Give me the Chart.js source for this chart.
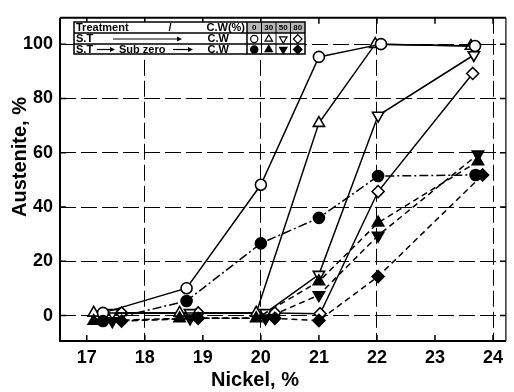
<!DOCTYPE html>
<html>
<head>
<meta charset="utf-8">
<script src="https://cdn.jsdelivr.net/npm/chart.js@4.4.0/dist/chart.umd.min.js"></script>
<style>
  html, body { margin: 0; padding: 0; background: #fff; }
  #wrap { width: 514px; height: 392px; }
</style>
</head>
<body>
<div id="wrap"><canvas id="chart" width="514" height="392"></canvas></div>
<script>
// ===== DATA =====
const xTicks = [17, 18, 19, 20, 21, 22, 23, 24];
const yTicks = [0, 20, 40, 60, 80, 100];
const cwLevels = ['0', '30', '50', '80'];

// S.T -> C.W  (open symbols, solid lines)
const stCw0X  = [17.28, 18.72, 20.0, 21.0, 22.07, 23.69];
const stCw0Y  = [1, 10.1, 48.2, 95.3, 100, 99.3];
const stCw30X = [17.12, 18.6, 19.92, 21.0, 21.97, 23.62];
const stCw30Y = [1, 1, 1, 70.9, 100, 99.3];
const stCw50X = [17.44, 18.78, 20.08, 21.0, 22.02, 23.67];
const stCw50Y = [1, 1, 1, 15.1, 73.7, 96];
const stCw80X = [17.6, 18.92, 20.24, 21.02, 22.02, 23.65];
const stCw80Y = [1, 1, 1, 0.7, 45.7, 89.2];

// S.T -> Sub zero -> C.W  (filled symbols, dashed lines)
const szCw0X  = [17.28, 18.72, 20.0, 21.0, 22.02, 23.7];
const szCw0Y  = [-2, 5.4, 26.6, 36, 51.4, 51.8];
const szCw30X = [17.12, 18.6, 19.92, 21.0, 22.02, 23.74];
const szCw30Y = [-2, -1, -1, 12.6, 34.2, 56.8];
const szCw50X = [17.44, 18.78, 20.08, 21.0, 22.02, 23.74];
const szCw50Y = [-2, -1, -1, 7.6, 29.5, 59.4];
const szCw80X = [17.6, 18.92, 20.24, 21.0, 22.02, 23.82];
const szCw80Y = [-2, -1, -1, -1.8, 14.4, 51.8];

const FONT = '"Liberation Sans", Arial, sans-serif';

function pts(xs, ys) {
    return xs.map((x, i) => ({ x: x, y: ys[i] }));
}

function series(label, xs, ys, style, rotation, radius, filled, dash) {
    return {
        label: label,
        data: pts(xs, ys),
        borderColor: '#000',
        borderWidth: 1.5,
        borderDash: dash,
        pointStyle: style,
        rotation: rotation,
        pointRadius: radius,
        pointBorderWidth: 1.6,
        pointBorderColor: '#000',
        pointBackgroundColor: filled ? '#000' : '#fff',
        showLine: true,
        tension: 0
    };
}

const datasets = [
    series('S.T-Sub zero 0',  szCw0X,  szCw0Y,  'circle',   0,   5.5, true, [9, 3, 2, 3]),
    series('S.T-Sub zero 30', szCw30X, szCw30Y, 'triangle', 0,   6.5, true, [6, 4]),
    series('S.T-Sub zero 50', szCw50X, szCw50Y, 'triangle', 180, 6.5, true, [6, 4]),
    series('S.T-Sub zero 80', szCw80X, szCw80Y, 'rectRot',  0,   6,   true, [6, 4]),
    series('S.T 0',  stCw0X,  stCw0Y,  'circle',   0,   5.5, false, []),
    series('S.T 30', stCw30X, stCw30Y, 'triangle', 0,   6.5, false, []),
    series('S.T 50', stCw50X, stCw50Y, 'triangle', 180, 6.5, false, []),
    series('S.T 80', stCw80X, stCw80Y, 'rectRot',  0,   6,   false, [])
];

// ===== PLUGIN: frame, inward ticks, titles, legend table =====
const decorPlugin = {
    id: 'decor',
    afterDraw(chart) {
        const ctx = chart.ctx;
        const a = chart.chartArea;
        const xs = chart.scales.x;
        const ys = chart.scales.y;

        ctx.save();
        ctx.strokeStyle = '#000';
        ctx.setLineDash([]);

        // inward ticks
        ctx.lineWidth = 1.5;
        ctx.beginPath();
        xTicks.forEach(v => {
            const px = xs.getPixelForValue(v);
            ctx.moveTo(px, a.bottom); ctx.lineTo(px, a.bottom - 6);
            ctx.moveTo(px, a.top); ctx.lineTo(px, a.top + 6);
        });
        yTicks.forEach(v => {
            const py = ys.getPixelForValue(v);
            ctx.moveTo(a.left, py); ctx.lineTo(a.left + 6, py);
            ctx.moveTo(a.right, py); ctx.lineTo(a.right - 6, py);
        });
        ctx.stroke();

        // frame
        ctx.lineWidth = 2;
        ctx.beginPath();
        ctx.moveTo(a.left, a.top); ctx.lineTo(a.left, a.bottom); ctx.lineTo(a.right, a.bottom);
        ctx.moveTo(a.left, a.top); ctx.lineTo(a.right, a.top);
        ctx.stroke();
        ctx.lineWidth = 1.2;
        ctx.beginPath();
        ctx.moveTo(a.right, a.top); ctx.lineTo(a.right, a.bottom);
        ctx.stroke();

        // axis titles
        ctx.fillStyle = '#000';
        ctx.font = 'bold 20px ' + FONT;
        ctx.textAlign = 'center';
        ctx.textBaseline = 'middle';
        ctx.fillText('Nickel, %', 255, 380);
        ctx.save();
        ctx.translate(20, 157);
        ctx.rotate(-Math.PI / 2);
        ctx.fillText('Austenite, %', 0, 0);
        ctx.restore();

        // legend table
        const L = 74, R = 305, T = 22, B = 54;
        const split = 247;
        const rows = [T, 33, 44, B];
        const cellW = (R - split) / 4;

        ctx.fillStyle = '#fff';
        ctx.fillRect(L, T, R - L, B - T);
        ctx.fillStyle = '#b8b8b8';
        ctx.fillRect(split, T, R - split, rows[1] - T);

        ctx.lineWidth = 1.5;
        ctx.strokeRect(L, T, R - L, B - T);
        ctx.beginPath();
        ctx.moveTo(L, rows[1]); ctx.lineTo(R, rows[1]);
        ctx.moveTo(L, rows[2]); ctx.lineTo(R, rows[2]);
        ctx.moveTo(split, T); ctx.lineTo(split, B);
        ctx.stroke();
        ctx.lineWidth = 1;
        ctx.beginPath();
        for (let i = 1; i < 4; i++) {
            ctx.moveTo(split + i * cellW, T); ctx.lineTo(split + i * cellW, B);
        }
        ctx.stroke();

        ctx.fillStyle = '#000';
        ctx.textBaseline = 'middle';
        ctx.font = 'bold 11px ' + FONT;
        const m1 = (rows[0] + rows[1]) / 2 + 0.5;
        const m2 = (rows[1] + rows[2]) / 2 + 0.5;
        const m3 = (rows[2] + rows[3]) / 2 + 0.5;
        ctx.textAlign = 'left';
        ctx.fillText('Treatment', L + 2, m1);
        ctx.fillText('S.T', L + 2, m2);
        ctx.fillText('S.T', L + 2, m3);
        ctx.fillText('Sub zero', 119, m3);
        ctx.textAlign = 'center';
        ctx.fillText('/', 170, m1);
        ctx.textAlign = 'right';
        ctx.fillText('C.W(%)', split - 2, m1);
        ctx.fillText('C.W', 229, m2);
        ctx.fillText('C.W', 229, m3);

        ctx.font = 'bold 8px ' + FONT;
        ctx.textAlign = 'center';
        cwLevels.forEach((t, i) => ctx.fillText(t, split + (i + 0.5) * cellW, m1));

        // arrows
        function arrow(x1, x2, y) {
            ctx.lineWidth = 1.2;
            ctx.beginPath();
            ctx.moveTo(x1, y); ctx.lineTo(x2 - 4, y);
            ctx.stroke();
            ctx.beginPath();
            ctx.moveTo(x2, y); ctx.lineTo(x2 - 5, y - 2.5); ctx.lineTo(x2 - 5, y + 2.5);
            ctx.closePath();
            ctx.fill();
        }
        arrow(113, 182, m2);
        arrow(97, 115, m3);
        arrow(173, 193, m3);

        // legend symbols
        const half = datasets.length / 2;
        datasets.forEach((ds, i) => {
            const filled = i < half;
            const col = i % half;
            const cx = split + (col + 0.5) * cellW;
            const cy = filled ? m3 : m2;
            ctx.fillStyle = filled ? '#000' : '#fff';
            ctx.strokeStyle = '#000';
            ctx.lineWidth = 1.2;
            Chart.helpers.drawPoint(ctx, {
                pointStyle: ds.pointStyle,
                rotation: ds.rotation,
                radius: ds.pointStyle === 'circle' ? 3.6 : 4.3,
                borderWidth: 1.2
            }, cx, cy);
        });

        ctx.restore();
    }
};

// ===== CHART =====
const tickFont = { family: FONT, size: 18, weight: 'bold' };

new Chart(document.getElementById('chart'), {
    type: 'scatter',
    data: { datasets: datasets },
    options: {
        responsive: false,
        animation: false,
        layout: { padding: { top: 10, right: 4, left: 0, bottom: 0 } },
        plugins: {
            legend: { display: false },
            tooltip: { enabled: false }
        },
        scales: {
            x: {
                type: 'linear',
                min: 16.539,
                max: 24.222,
                afterBuildTicks: scale => { scale.ticks = xTicks.map(v => ({ value: v })); },
                afterFit: scale => { scale.height = 51; },
                ticks: { color: '#000', font: tickFont, padding: 6, maxRotation: 0, autoSkip: false },
                grid: {
                    drawTicks: false,
                    lineWidth: 1,
                    color: c => (c.tick && c.tick.value % 2 === 0) ? '#000' : 'rgba(0,0,0,0)'
                },
                border: { display: false, dash: [16, 5] }
            },
            y: {
                type: 'linear',
                min: -9.35,
                max: 109.7,
                afterBuildTicks: scale => { scale.ticks = yTicks.map(v => ({ value: v })); },
                afterFit: scale => { scale.width = 60; },
                ticks: { color: '#000', font: tickFont, padding: 7 },
                grid: { drawTicks: false, lineWidth: 1, color: '#000' },
                border: { display: false, dash: [16, 5] }
            }
        }
    },
    plugins: [decorPlugin]
});
</script>
</body>
</html>
